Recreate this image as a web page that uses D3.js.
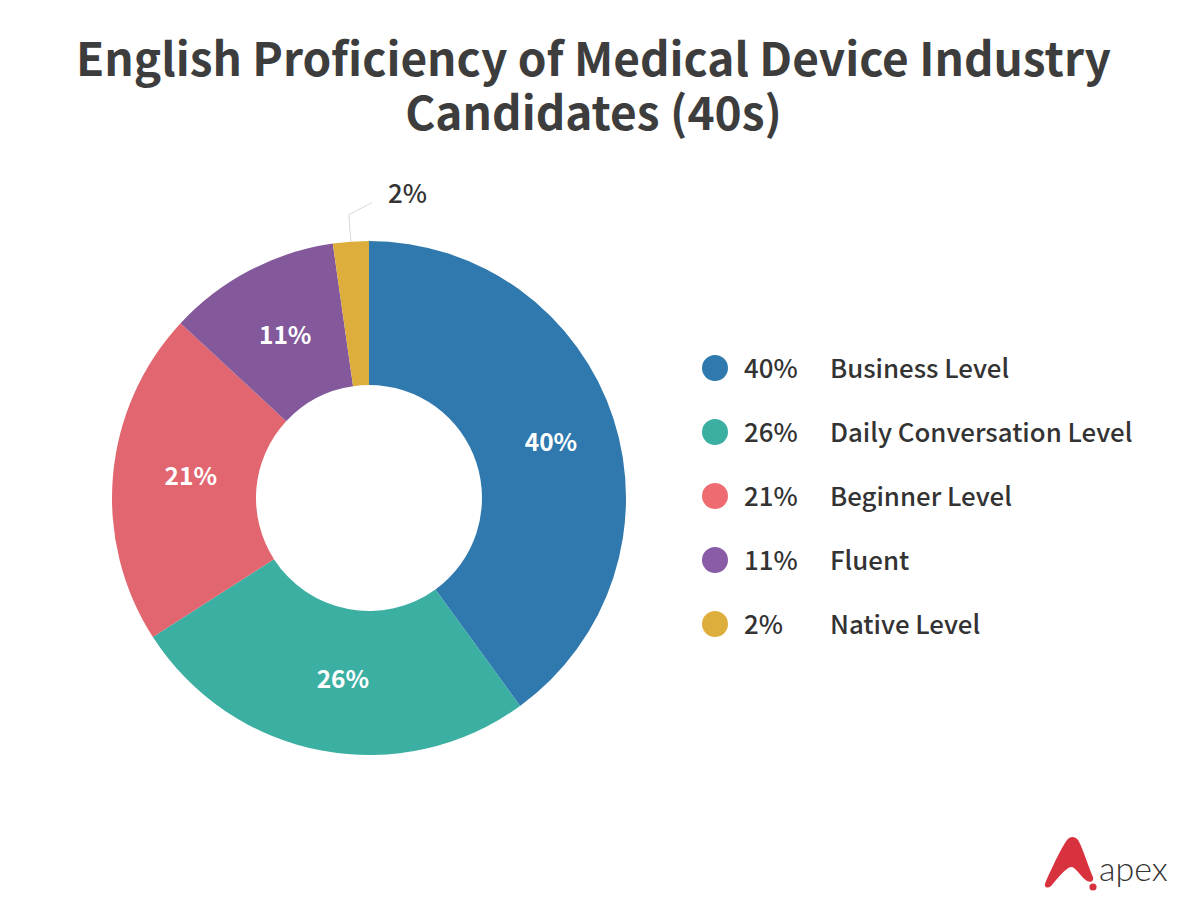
<!DOCTYPE html>
<html>
<head>
<meta charset="utf-8">
<script src="https://cdnjs.cloudflare.com/ajax/libs/d3/7.8.5/d3.min.js"></script>
<style>
html, body { margin: 0; padding: 0; background: #fff; }
text { font-family: "Noto Sans CJK JP", "Noto Sans", sans-serif; }
</style>
</head>
<body>
<svg id="chart"></svg>
<script>
const levels = ["Business Level", "Daily Conversation Level", "Beginner Level", "Fluent", "Native Level"];
const shares = [40, 26, 21, 11, 2];
// slice sizes as measured on the picture, the printed labels are rounded
const sliceSizes = [40, 25.9, 21, 10.85, 2.25];
const colors = ["#3079ae", "#3cafa3", "#e16670", "#83599b", "#deae3c"];
const legendColors = ["#3079ae", "#3cafa3", "#ee6b72", "#8a5ca8", "#deae3c"];
const titleLines = ["English Proficiency of Medical Device Industry", "Candidates (40s)"];

const svg = d3.select("#chart").attr("width", 1200).attr("height", 918);

// title
svg.append("text")
    .attr("text-anchor", "middle")
    .attr("font-size", 46)
    .attr("font-weight", 700)
    .attr("fill", "#3d3d3d")
  .selectAll("tspan")
  .data(titleLines)
  .enter()
  .append("tspan")
    .attr("x", 593.5)
    .attr("y", (d, i) => 75.5 + i * 54)
    .text(d => d);

// donut
const pie = d3.pie().sort(null).value(d => d);
const arc = d3.arc().innerRadius(113).outerRadius(257);
const labelArc = d3.arc().innerRadius(185).outerRadius(185);
const labelNudge = [[6, 1], [8, -1], [6, -6], [2, 1]];

const donut = svg.append("g").attr("transform", "translate(369,498)");
const slices = pie(sliceSizes);

donut.selectAll("path")
  .data(slices)
  .enter()
  .append("path")
    .attr("d", arc)
    .attr("fill", (d, i) => colors[i]);

donut.selectAll("text")
  .data(slices.slice(0, 4))
  .enter()
  .append("text")
    .attr("transform", (d, i) => {
      const c = labelArc.centroid(d);
      return "translate(" + (c[0] + labelNudge[i][0]) + "," + (c[1] + labelNudge[i][1]) + ")";
    })
    .attr("dy", "0.36em")
    .attr("text-anchor", "middle")
    .attr("font-size", 24.5)
    .attr("font-weight", 700)
    .attr("fill", "#fff")
    .text((d, i) => shares[i] + "%");

// leader line for the small slice
const last = slices[slices.length - 1];
const mid = (last.startAngle + last.endAngle) / 2;
const edge = [Math.sin(mid) * 257, -Math.cos(mid) * 257];
donut.append("path")
  .attr("d", "M" + edge[0] + "," + edge[1] + "L" + (edge[0] - 2) + "," + (edge[1] - 27) + "l23,-12")
  .attr("fill", "none")
  .attr("stroke", "#d9d9d9")
  .attr("stroke-width", 1);

donut.append("text")
  .attr("x", 19)
  .attr("y", -295)
  .attr("font-size", 25.8)
  .attr("font-weight", 500)
  .attr("fill", "#333")
  .text(shares[4] + "%");

// legend
const legendY = d3.scalePoint().domain(levels).range([368, 624]);
const legend = svg.selectAll("g.legend")
  .data(levels)
  .enter()
  .append("g")
    .attr("class", "legend")
    .attr("transform", d => "translate(0," + legendY(d) + ")");

legend.append("circle")
  .attr("cx", 715)
  .attr("r", 13)
  .attr("fill", (d, i) => legendColors[i]);

legend.append("text")
  .attr("x", 744)
  .attr("dy", "0.4em")
  .attr("font-size", 25.8)
  .attr("font-weight", 500)
  .attr("fill", "#333")
  .text((d, i) => shares[i] + "%");

legend.append("text")
  .attr("x", 830)
  .attr("dy", "0.4em")
  .attr("font-size", 25.8)
  .attr("font-weight", 500)
  .attr("fill", "#333")
  .text(d => d);

// logo
svg.append("path")
  .attr("d", "M1045,884 C1046,880 1062,846 1067,840 C1070,836 1075,836 1078,840 C1082,846 1089,868 1093,877 C1094,881 1091,883 1087,881 C1082,878 1076,868 1072,867 C1067,866 1056,880 1052,885 C1048,889 1044,888 1045,884 Z")
  .attr("fill", "#d9323f");
svg.append("circle")
  .attr("cx", 1093).attr("cy", 887).attr("r", 3.6)
  .attr("fill", "#d9323f");
svg.append("text")
  .attr("x", 1099)
  .attr("y", 881)
  .attr("style", "font-family: Lato, sans-serif")
  .attr("font-size", 34)
  .attr("font-weight", 300)
  .attr("fill", "#333")
  .text("apex");
</script>
</body>
</html>
